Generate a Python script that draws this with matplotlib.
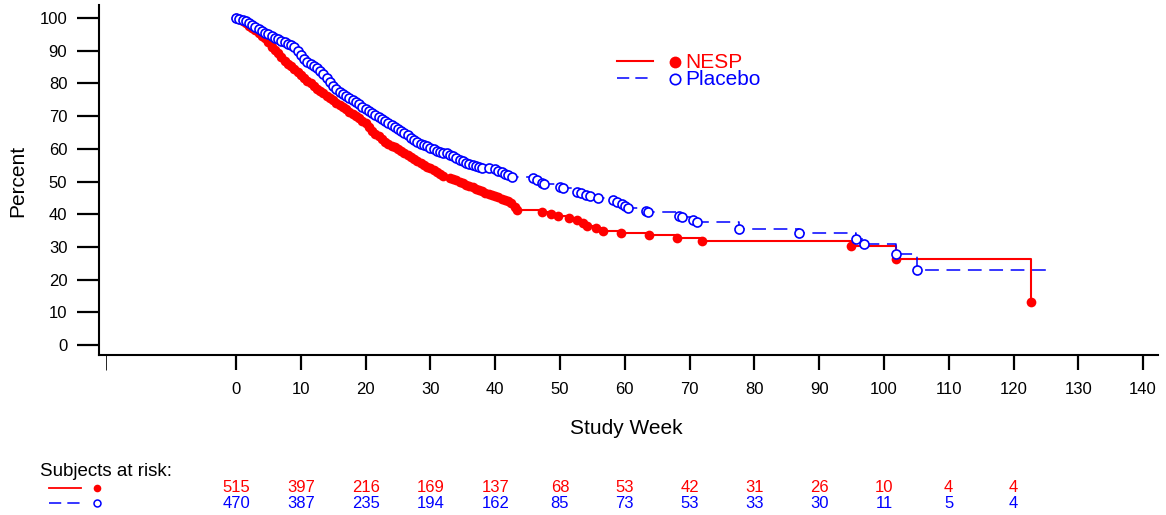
import matplotlib
matplotlib.use("Agg")
import matplotlib.pyplot as plt
from matplotlib.lines import Line2D
from matplotlib.transforms import blended_transform_factory

# Kaplan-Meier style curves (week, percent).

nesp_weeks = [
    0.0, 0.5, 1.0, 1.5, 2.0, 2.5, 3.0, 3.5, 4.0, 4.5, 5.0, 5.5, 6.0, 6.5,
    7.0, 7.5, 8.0, 8.5, 9.0, 9.5, 10.0, 10.5, 11.0, 11.5, 12.0, 12.5, 13.0,
    13.5, 14.0, 14.5, 15.0, 15.5, 16.0, 16.5, 17.0, 17.5, 18.0, 18.5, 19.0,
    19.5, 20.0, 20.5, 21.0, 21.5, 22.0, 22.5, 23.0, 23.5, 24.0, 24.5, 25.0,
    25.5, 26.0, 26.5, 27.0, 27.5, 28.0, 28.5, 29.0, 29.5, 30.0, 30.5, 31.0,
    31.5, 32.0, 33.0, 33.5, 34.0, 34.5, 35.0, 35.5, 36.0, 36.5, 37.0, 37.5,
    38.0, 38.5, 39.0, 39.5, 40.0, 40.5, 41.0, 41.5, 42.0, 42.5, 43.0, 43.3,
    47.2, 48.6, 49.7, 51.4, 52.6, 53.5, 54.2, 55.6, 56.6, 59.4, 63.7, 68.0,
    71.9, 94.9, 101.8, 122.7]
nesp_pct = [
    100.0, 99.6, 99.0, 98.4, 97.6, 96.9, 96.2, 95.4, 94.6, 93.8, 92.6, 91.3,
    90.2, 89.3, 88.2, 86.9, 86.0, 85.2, 84.4, 83.6, 82.6, 81.8, 80.8, 80.0,
    79.2, 78.4, 77.6, 77.0, 76.3, 75.6, 74.8, 74.1, 73.4, 72.8, 72.1, 71.4,
    70.8, 70.1, 69.4, 68.6, 67.8, 66.8, 65.6, 64.6, 63.8, 63.0, 62.2, 61.6,
    61.0, 60.5, 60.0, 59.4, 58.8, 58.2, 57.5, 56.8, 56.2, 55.6, 55.0, 54.5,
    54.0, 53.4, 52.8, 52.2, 51.6, 51.2, 50.8, 50.4, 49.9, 49.4, 49.0, 48.6,
    48.2, 47.8, 47.4, 47.0, 46.6, 46.2, 45.8, 45.5, 45.2, 44.8, 44.4, 44.0,
    43.4, 42.3, 41.3, 40.8, 40.1, 39.5, 38.9, 38.3, 37.3, 36.5, 35.8, 34.8,
    34.2, 33.6, 32.8, 31.8, 30.3, 26.4, 13.1]

placebo_weeks = [
    0.0, 0.5, 1.0, 1.5, 2.0, 2.5, 3.0, 3.5, 4.0, 4.5, 5.0, 5.5, 6.0, 6.5,
    7.0, 7.5, 8.0, 8.5, 9.0, 9.5, 10.0, 10.5, 11.0, 11.5, 12.0, 12.5, 13.0,
    13.5, 14.0, 14.5, 15.0, 15.5, 16.0, 16.5, 17.0, 17.5, 18.0, 18.5, 19.0,
    19.5, 20.0, 20.5, 21.0, 21.5, 22.0, 22.5, 23.0, 23.5, 24.0, 24.5, 25.0,
    25.5, 26.0, 26.5, 27.0, 27.5, 28.0, 28.5, 29.0, 29.5, 30.0, 30.5, 31.0,
    31.5, 32.0, 32.5, 33.0, 33.5, 34.0, 34.5, 35.0, 35.5, 36.0, 36.5, 37.0,
    37.5, 38.0, 39.0, 40.0, 40.5, 41.0, 41.5, 42.0, 42.6, 45.8, 46.4, 47.2,
    47.6, 50.0, 50.4, 52.6, 53.2, 54.0, 54.6, 55.9, 58.2, 58.8, 59.6, 60.0,
    60.5, 63.2, 63.6, 68.4, 68.9, 70.6, 71.1, 77.6, 86.9, 95.7, 96.9, 101.9,
    105.1]
placebo_pct = [
    100.0, 99.8, 99.4, 99.0, 98.6, 98.0, 97.3, 96.6, 96.1, 95.5, 95.0, 94.5,
    94.0, 93.5, 93.0, 92.6, 92.2, 91.8, 91.2, 90.0, 88.6, 87.6, 86.7, 86.0,
    85.3, 84.6, 83.8, 83.0, 81.8, 80.4, 79.2, 78.2, 77.4, 76.8, 76.2, 75.6,
    75.0, 74.3, 73.6, 72.9, 72.3, 71.6, 71.0, 70.4, 69.8, 69.1, 68.4, 67.8,
    67.2, 66.6, 66.0, 65.4, 64.9, 64.2, 63.4, 62.6, 62.0, 61.6, 61.2, 60.8,
    60.2, 59.8, 59.4, 59.0, 58.8, 58.6, 58.2, 57.7, 57.2, 56.7, 56.2, 55.8,
    55.4, 55.0, 54.7, 54.4, 54.2, 54.0, 53.7, 53.2, 52.8, 52.4, 52.0, 51.4,
    51.0, 50.5, 49.6, 49.2, 48.4, 47.9, 46.9, 46.5, 46.0, 45.6, 45.0, 44.3,
    43.8, 43.1, 42.5, 41.8, 41.1, 40.7, 39.6, 39.0, 38.2, 37.6, 35.5, 34.2,
    32.4, 30.9, 27.7, 22.9]
placebo_end_week = 125.8

# Subjects at risk table.

risk_weeks = [0, 10, 20, 30, 40, 50, 60, 70, 80, 90, 100, 110, 120]
nesp_at_risk = [515, 397, 216, 169, 137, 68, 53, 42, 31, 26, 10, 4, 4]
placebo_at_risk = [470, 387, 235, 194, 162, 85, 73, 53, 33, 30, 11, 5, 4]

# Setup.

plt.rcParams["font.family"] = ["Liberation Sans", "DejaVu Sans"]

W, H = 1166., 515.


def fx(x):
    return x / W


def fy(y):
    return 1. - y / H


red = "#ff0000"
blue = "#0000ff"

fig = plt.figure(figsize=(11.66, 5.15), dpi=100)
ax = fig.add_axes([fx(99), fy(355), (1158 - 99) / W, 350 / H])

# Curves.

ax.step(nesp_weeks, nesp_pct, where="post", color=red, lw=1.5, zorder=2)
ax.plot(nesp_weeks, nesp_pct, "o", color=red, ms=7, mew=0, zorder=3)

ax.step(placebo_weeks + [placebo_end_week], placebo_pct + [placebo_pct[-1]],
        where="post", color=blue, lw=1.1, dashes=(9, 5), zorder=4)
ax.plot(placebo_weeks, placebo_pct, "o", mfc="white", mec=blue, ms=6.5,
        mew=1.2, zorder=5)

# Axes.

ax.set_xlim(-21.15, 142.3)
ax.set_ylim(-3.06, 104.0)
ax.set_xticks(range(0, 141, 10))
ax.set_xticks([-20], minor=True)
ax.set_yticks(range(0, 101, 10))

for s in ["top", "right"]:
    ax.spines[s].set_visible(False)
for s in ["left", "bottom"]:
    ax.spines[s].set_linewidth(1.5)

ax.tick_params(axis="y", length=15.8, width=1.6, pad=7, labelsize=12)
ax.tick_params(axis="x", which="major", length=10.8, width=1.6, pad=9,
               labelsize=12)
ax.tick_params(axis="x", which="minor", length=10.8, width=0.6)

fig.text(fx(626), fy(428), "Study Week", ha="center", va="center",
         fontsize=15)
fig.text(fx(18), fy(181), "Percent", ha="center", va="center",
         rotation=90, fontsize=15)

# Legend.

fig.add_artist(Line2D([fx(617), fx(653)], [fy(61), fy(61)], color=red,
                      lw=1.5))
fig.add_artist(Line2D([fx(675)], [fy(62)], marker="o", color=red, ms=8.5,
                      mew=0))
fig.text(fx(685), fy(62), "NESP", color=red, ha="left", va="center",
         fontsize=15)
fig.add_artist(Line2D([fx(617), fx(653)], [fy(78), fy(78)], color=blue,
                      lw=1.1, dashes=(8, 4)))
fig.add_artist(Line2D([fx(675)], [fy(79)], marker="o", mfc="white",
                      mec=blue, ms=7.5, mew=1.2))
fig.text(fx(685), fy(79), "Placebo", color=blue, ha="left", va="center",
         fontsize=15)

# Subjects at risk.

fig.text(fx(40), fy(472), "Subjects at risk:", ha="left", va="center",
         fontsize=13.5)
fig.add_artist(Line2D([fx(49), fx(81)], [fy(488), fy(488)], color=red,
                      lw=1.3))
fig.add_artist(Line2D([fx(97)], [fy(488)], marker="o", color=red, ms=5.5,
                      mew=0))
fig.add_artist(Line2D([fx(49), fx(81)], [fy(503), fy(503)], color=blue,
                      lw=1.1, dashes=(8, 4)))
fig.add_artist(Line2D([fx(97)], [fy(503)], marker="o", mfc="white",
                      mec=blue, ms=5, mew=1.1))

trans = blended_transform_factory(ax.transData, fig.transFigure)
for wk, n_red, n_blue in zip(risk_weeks, nesp_at_risk, placebo_at_risk):
    ax.text(wk, fy(488), str(n_red), color=red, ha="center", va="center",
            fontsize=12, transform=trans, clip_on=False)
    ax.text(wk, fy(503), str(n_blue), color=blue, ha="center", va="center",
            fontsize=12, transform=trans, clip_on=False)

fig.savefig("out.png", dpi=100)
plt.close(fig)
